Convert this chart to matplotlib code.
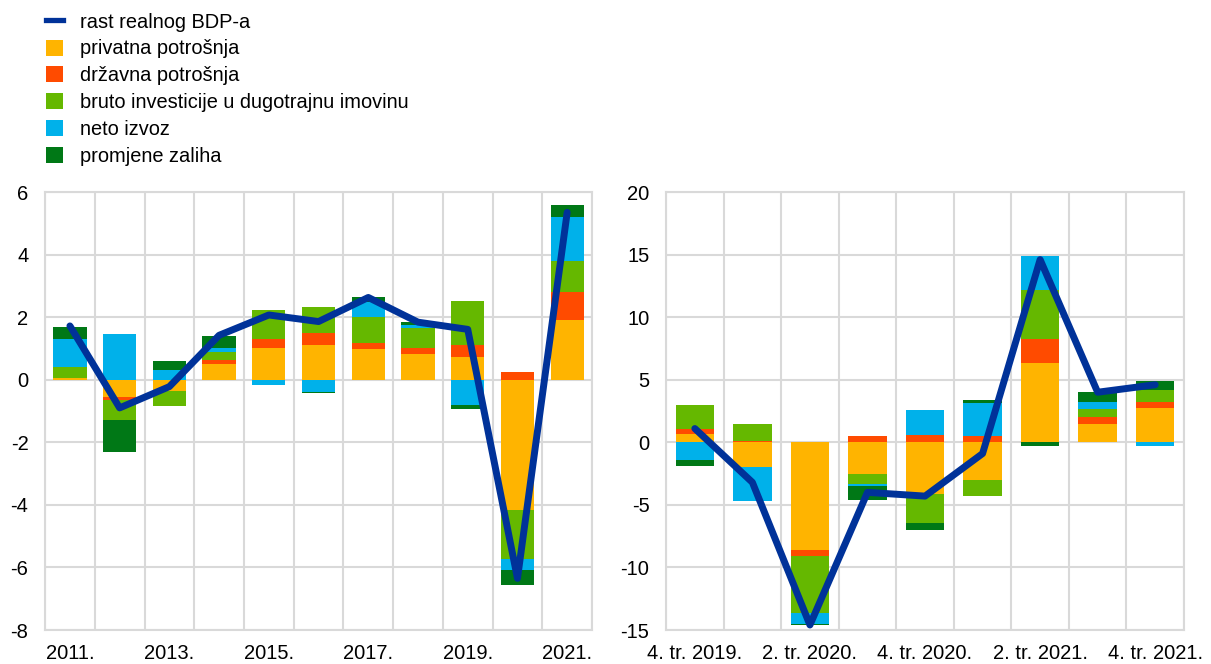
import numpy as np
import matplotlib.pyplot as plt
from matplotlib.patches import Patch
from matplotlib.lines import Line2D

plt.rcParams["font.family"] = ["Liberation Sans", "DejaVu Sans"]
plt.rcParams["axes.unicode_minus"] = False

SERIES = [
    "privatna potrošnja",
    "državna potrošnja",
    "bruto investicije u dugotrajnu imovinu",
    "neto izvoz",
    "promjene zaliha",
]
COLORS = ["#FFB400", "#FF4B00", "#65B800", "#00B1EA", "#007816"]
LINE_COLOR = "#003299"
GRID_COLOR = "#d9d9d9"

# annual contributions (percentage points)
years = ["2011.", "2012.", "2013.", "2014.", "2015.", "2016.", "2017.", "2018.", "2019.", "2020.", "2021."]
privatna_a = [0.05, -0.56, -0.37, 0.50, 1.02, 1.10, 0.98, 0.81, 0.73, -4.18, 1.91]
drzavna_a = [0.00, -0.08, 0.00, 0.14, 0.29, 0.40, 0.21, 0.20, 0.37, 0.24, 0.88]
investicije_a = [0.36, -0.64, -0.46, 0.26, 0.93, 0.81, 0.81, 0.64, 1.41, -1.54, 1.02]
neto_a = [0.89, 1.46, 0.32, 0.13, -0.18, -0.39, 0.50, 0.11, -0.80, -0.37, 1.38]
zalihe_a = [0.40, -1.04, 0.29, 0.37, 0.00, -0.03, 0.14, 0.08, -0.13, -0.48, 0.40]
gdp_a = [1.72, -0.90, -0.22, 1.42, 2.07, 1.86, 2.63, 1.84, 1.61, -6.35, 5.35]

# quarterly contributions
quarters = ["4. tr. 2019.", "1. tr. 2020.", "2. tr. 2020.", "3. tr. 2020.", "4. tr. 2020.",
            "1. tr. 2021.", "2. tr. 2021.", "3. tr. 2021.", "4. tr. 2021."]
privatna_q = [0.69, -1.97, -8.64, -2.51, -4.11, -2.99, 6.35, 1.49, 2.72]
drzavna_q = [0.38, 0.10, -0.43, 0.48, 0.56, 0.51, 1.89, 0.54, 0.53]
investicije_q = [1.89, 1.39, -4.58, -0.80, -2.34, -1.33, 3.92, 0.64, 0.91]
neto_q = [-1.44, -2.72, -0.86, -0.16, 2.05, 2.64, 2.72, 0.56, -0.30]
zalihe_q = [-0.45, 0.00, -0.13, -1.12, -0.54, 0.21, -0.30, 0.80, 0.72]
gdp_q = [1.1, -3.2, -14.6, -4.0, -4.3, -0.9, 14.6, 4.0, 4.6]


def plot_panel(ax, labels, components, gdp, ylim, yticks):
    n = len(labels)
    x = np.arange(n)
    pos_bottom = np.zeros(n)
    neg_bottom = np.zeros(n)
    for vals, color in zip(components, COLORS):
        vals = np.array(vals)
        pos = np.where(vals > 0, vals, 0)
        neg = np.where(vals < 0, vals, 0)
        ax.bar(x, pos, bottom=pos_bottom, width=0.67, color=color, zorder=2)
        ax.bar(x, neg, bottom=neg_bottom, width=0.67, color=color, zorder=2)
        pos_bottom += pos
        neg_bottom += neg
    ax.plot(x, gdp, color=LINE_COLOR, lw=5, zorder=3, solid_capstyle="round")

    ax.set_xlim(-0.5, n - 0.5)
    ax.set_ylim(*ylim)
    ax.set_yticks(yticks)
    ax.set_xticks(x[::2])
    ax.set_xticklabels(labels[::2])
    ax.set_xticks(np.arange(n + 1) - 0.5, minor=True)
    ax.grid(axis="y", which="major", color=GRID_COLOR, lw=1.5, zorder=0)
    ax.grid(axis="x", which="minor", color=GRID_COLOR, lw=1.5, zorder=0)
    ax.tick_params(which="both", length=0, labelsize=14.5)
    ax.tick_params(axis="y", pad=12)
    ax.tick_params(axis="x", pad=10)
    for s in ax.spines.values():
        s.set_color(GRID_COLOR)
        s.set_linewidth(1.5)
        s.set_zorder(0)


fig = plt.figure(figsize=(12.11, 6.64), dpi=100)
ax1 = fig.add_axes([0.0372, 0.0512, 0.4517, 0.6596])
ax2 = fig.add_axes([0.5500, 0.0512, 0.4277, 0.6596])

plot_panel(ax1, years, [privatna_a, drzavna_a, investicije_a, neto_a, zalihe_a], gdp_a,
           (-8, 6), np.arange(-8, 7, 2))
plot_panel(ax2, quarters, [privatna_q, drzavna_q, investicije_q, neto_q, zalihe_q], gdp_q,
           (-15, 20), np.arange(-15, 21, 5))

handles = [Line2D([0], [0], color=LINE_COLOR, lw=3.8)]
handles += [Patch(facecolor=c) for c in COLORS]
fig.legend(handles, ["rast realnog BDP-a"] + SERIES, loc="upper left",
           bbox_to_anchor=(0.023, 1.008), frameon=False, fontsize=14.4,
           handlelength=0.85, handleheight=0.85, handletextpad=0.85,
           labelspacing=0.39)

fig.savefig("out.png", dpi=100)
